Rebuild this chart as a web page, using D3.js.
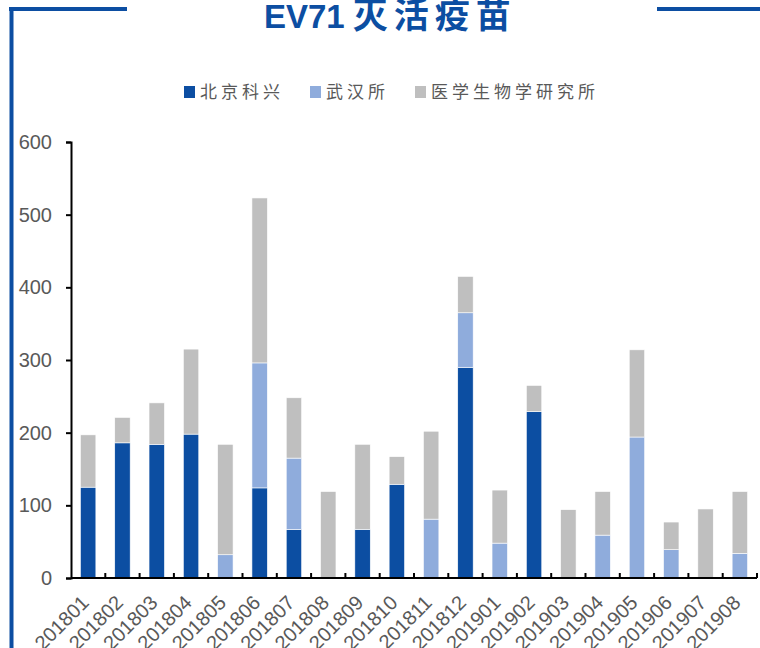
<!DOCTYPE html>
<html>
<head>
<meta charset="utf-8">
<script src="https://cdn.jsdelivr.net/npm/d3@7"></script>
<style>
  body { margin: 0; background: #fff; }
  svg { display: block; }
</style>
</head>
<body>
<div id="chart"></div>
<script>
// data
var months = ['201801','201802','201803','201804','201805','201806','201807','201808','201809','201810',
              '201811','201812','201901','201902','201903','201904','201905','201906','201907','201908'];
var kexing = [125, 186, 184, 198, 0, 124, 67, 0, 67, 129, 0, 290, 0, 229, 0, 0, 0, 0, 0, 0];
var wuhan  = [0, 0, 0, 0, 32, 172, 98, 0, 0, 0, 81, 75, 48, 0, 0, 59, 194, 39, 0, 34];
var yixue  = [72, 35, 57, 117, 152, 227, 83, 119, 117, 38, 121, 50, 73, 36, 94, 60, 120, 38, 95, 85];
var seriesNames = ['北京科兴', '武汉所', '医学生物学研究所'];
var yTicks = [0, 100, 200, 300, 400, 500, 600];

var colors = ['#0C4EA2', '#8FACDC', '#BFBFBF'];
var frameBlue = '#0C4EA2';

var svgWidth = 760;
var svgHeight = 648;
var margin = { top: 142, right: 3, bottom: 70, left: 71 };
var chartWidth = svgWidth - margin.left - margin.right;
var chartHeight = svgHeight - margin.top - margin.bottom;

var svg = d3.select('#chart').append('svg')
    .attr('width', svgWidth)
    .attr('height', svgHeight);

// frame lines
svg.append('line').attr('x1', 9).attr('x2', 127).attr('y1', 9).attr('y2', 9)
    .attr('stroke', frameBlue).attr('stroke-width', 4);
svg.append('line').attr('x1', 11.5).attr('x2', 11.5).attr('y1', 7).attr('y2', svgHeight)
    .attr('stroke', frameBlue).attr('stroke-width', 4);
svg.append('line').attr('x1', 657).attr('x2', svgWidth).attr('y1', 9).attr('y2', 9)
    .attr('stroke', frameBlue).attr('stroke-width', 4);

// title
var title = svg.append('text')
    .attr('x', 264)
    .attr('y', 28)
    .attr('fill', frameBlue)
    .style('font-weight', 'bold')
    .style('font-size', '33px');
title.append('tspan')
    .style('font-family', '"Liberation Sans", Arial, sans-serif')
    .text('EV71');
title.append('tspan')
    .attr('dx', 8)
    .style('font-family', '"Noto Sans CJK SC", sans-serif')
    .style('font-size', '35px')
    .style('letter-spacing', '6px')
    .text('灭活疫苗');

// legend
var legendItems = [
  { name: seriesNames[0], x: 184, color: colors[0] },
  { name: seriesNames[1], x: 310, color: colors[1] },
  { name: seriesNames[2], x: 415, color: colors[2] }
];
var legend = svg.append('g');
legendItems.forEach(function(d) {
  legend.append('rect')
    .attr('x', d.x).attr('y', 86)
    .attr('width', 11).attr('height', 12)
    .attr('fill', d.color);
  legend.append('text')
    .attr('x', d.x + 16).attr('y', 98)
    .attr('fill', '#595959')
    .style('font-family', '"Noto Sans CJK SC", sans-serif')
    .style('font-size', '17px')
    .style('letter-spacing', '4px')
    .text(d.name);
});

var chartGroup = svg.append('g')
    .attr('transform', `translate(${margin.left}, ${margin.top})`);

var tableData = months.map(function(m, i) {
  return { month: m, kexing: kexing[i], wuhan: wuhan[i], yixue: yixue[i] };
});
var keys = ['kexing', 'wuhan', 'yixue'];
var stacked = d3.stack().keys(keys)(tableData);

var xScale = d3.scaleBand()
    .domain(months)
    .range([0, chartWidth])
    .paddingInner(0.55)
    .paddingOuter(0.275);

var yScale = d3.scaleLinear()
    .domain([0, 600])
    .range([chartHeight, 0]);

// bars
chartGroup.selectAll('.layer')
    .data(stacked)
    .enter()
    .append('g')
    .attr('class', 'layer')
    .attr('fill', (d, i) => colors[i])
    .selectAll('rect')
    .data(d => d)
    .enter()
    .append('rect')
    .attr('x', d => xScale(d.data.month))
    .attr('y', d => yScale(d[1]))
    .attr('width', xScale.bandwidth())
    .attr('height', d => yScale(d[0]) - yScale(d[1]))
    .attr('stroke', '#fff')
    .attr('stroke-width', 0.6);

// y axis
var leftAxis = d3.axisLeft(yScale).tickValues(yTicks).tickSize(5).tickPadding(14);
var yAxis = chartGroup.append('g').call(leftAxis);
yAxis.select('.domain').attr('stroke', '#000').attr('stroke-width', 2);
yAxis.selectAll('.tick line').attr('stroke', '#000').attr('stroke-width', 2);
yAxis.selectAll('.tick text')
    .attr('fill', '#595959')
    .style('font-family', '"Liberation Sans", Arial, sans-serif')
    .style('font-size', '20px');

// x axis: boundary ticks pointing up into the plot
var xAxis = chartGroup.append('g')
    .attr('transform', `translate(0, ${chartHeight})`);
xAxis.append('line')
    .attr('x1', 0).attr('x2', chartWidth)
    .attr('stroke', '#000').attr('stroke-width', 2);
xAxis.selectAll('.bound')
    .data(months)
    .enter()
    .append('line')
    .attr('class', 'bound')
    .attr('x1', d => xScale(d) - xScale.step() * 0.275 + xScale.step())
    .attr('x2', d => xScale(d) - xScale.step() * 0.275 + xScale.step())
    .attr('y1', 0).attr('y2', -5)
    .attr('stroke', '#000').attr('stroke-width', 2);

xAxis.selectAll('.xlabel')
    .data(months)
    .enter()
    .append('text')
    .attr('class', 'xlabel')
    .attr('transform', d => `translate(${xScale(d) + xScale.bandwidth() / 2 + 2}, 26) rotate(-45)`)
    .attr('text-anchor', 'end')
    .attr('fill', '#595959')
    .style('font-family', '"Liberation Sans", Arial, sans-serif')
    .style('font-size', '20px')
    .text(d => d);
</script>
</body>
</html>
